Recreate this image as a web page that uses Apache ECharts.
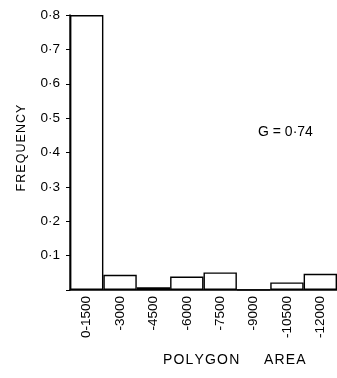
<!DOCTYPE html>
<html><head><meta charset="utf-8">
<script src="https://cdn.jsdelivr.net/npm/echarts@6/dist/echarts.min.js"></script>
<style>html,body{margin:0;padding:0;background:#fff}#c{width:337px;height:378px}</style>
</head><body><div id="c"></div>
<script>
const categories = ['0-1500','-3000','-4500','-6000','-7500','-9000','-10500','-12000'];
const frequency = [0.8, 0.044, 0.008, 0.039, 0.051, 0.001, 0.022, 0.047];
const yTicks = [0,0.1,0.2,0.3,0.4,0.5,0.6,0.7,0.8];
const annotation = 'G = 0·74';

const chart = echarts.init(document.getElementById('c'), null, {renderer:'canvas'});
const font = 'Liberation Sans';
chart.setOption({
  animation:false,
  grid:{left:70, top:15, height:275, width:272, containLabel:false},
  xAxis:{type:'category', data:categories,
    axisLine:{lineStyle:{color:'#000', width:1.5}},
    axisTick:{show:false},
    axisLabel:{rotate:90, color:'#000', fontFamily:font, fontSize:13.5, margin:6, interval:0}},
  yAxis:{type:'value', min:0, max:0.8, interval:0.1,
    splitLine:{show:false},
    axisLine:{show:true, lineStyle:{color:'#000', width:1.5}},
    axisTick:{show:true, length:4, lineStyle:{color:'#000'}},
    axisLabel:{color:'#000', fontFamily:font, fontSize:13.5, margin:10,
      formatter:v=>v===0?'':v.toFixed(1).replace('.','·')}},
  series:[{type:'bar', data:frequency, barCategoryGap:'0%',
    itemStyle:{color:'#fff', borderColor:'#000', borderWidth:1.4}}],
  graphic:[
    {type:'text', x:22, y:148, rotation:Math.PI/2, style:{text:'F R E Q U E N C Y'.replace(/ /g,'\u200A'), fill:'#000', font:'12.5px '+font, align:'center', verticalAlign:'middle'}},
    {type:'text', x:163, y:353, style:{text:'P O L Y G O N'.replace(/ /g,'\u200A'), fill:'#000', font:'14px '+font}},
    {type:'text', x:264, y:353, style:{text:'A R E A'.replace(/ /g,'\u200A'), fill:'#000', font:'14px '+font}},
    {type:'text', x:258, y:125, style:{text:annotation, fill:'#000', font:'14px '+font}}
  ]
});
</script></body></html>
